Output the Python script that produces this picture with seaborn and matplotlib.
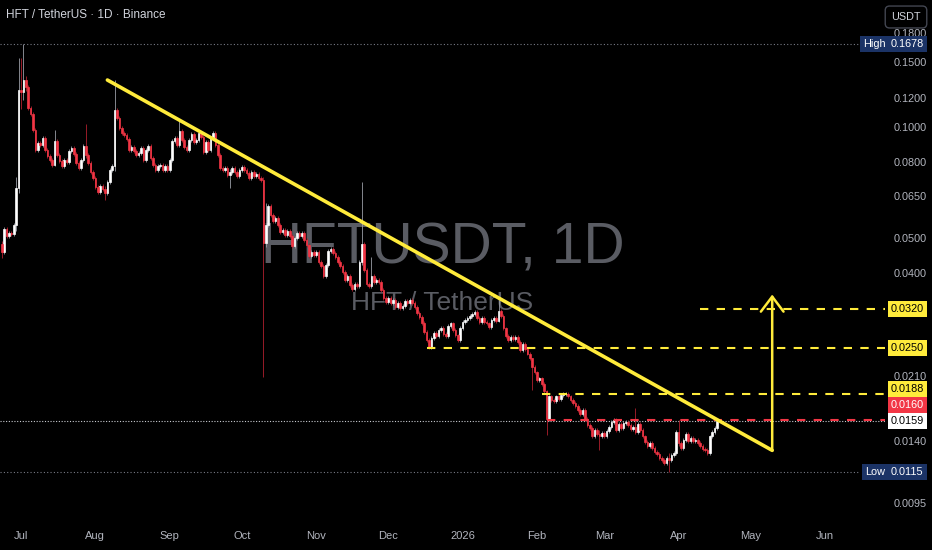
import numpy as np
import pandas as pd
import matplotlib

matplotlib.use("Agg")
import matplotlib.pyplot as plt
import matplotlib.dates as mdates
from matplotlib.ticker import FixedLocator, NullLocator
import seaborn as sns

# daily HFT/USDT candles (open = previous close)
first_day = "2025-06-23"
first_open = 0.0480
closes = [
    0.0457, 0.0527, 0.0505, 0.0514, 0.0511, 0.0541, 0.0682, 0.1260, 0.1244, 0.1340,
    0.1283, 0.1124, 0.1084, 0.0980, 0.0865, 0.0904, 0.0893, 0.0932, 0.0865, 0.0833,
    0.0812, 0.0787, 0.0915, 0.0838, 0.0807, 0.0782, 0.0812, 0.0802, 0.0860, 0.0876,
    0.0844, 0.0797, 0.0772, 0.0812, 0.0887, 0.0838, 0.0797, 0.0754, 0.0726, 0.0686,
    0.0665, 0.0691, 0.0678, 0.0660, 0.0708, 0.0763, 0.0782, 0.1111, 0.1057, 0.0992,
    0.0962, 0.0950, 0.0926, 0.0865, 0.0882, 0.0860, 0.0838, 0.0849, 0.0876, 0.0812,
    0.0865, 0.0887, 0.0823, 0.0787, 0.0763, 0.0782, 0.0787, 0.0763, 0.0782, 0.0763,
    0.0812, 0.0915, 0.0932, 0.0893, 0.0974, 0.0921, 0.0882, 0.0865, 0.0921, 0.0956,
    0.0910, 0.0921, 0.0962, 0.0938, 0.0854, 0.0910, 0.0865, 0.0932, 0.0962, 0.0893,
    0.0838, 0.0772, 0.0763, 0.0772, 0.0740, 0.0754, 0.0772, 0.0754, 0.0735, 0.0763,
    0.0777, 0.0763, 0.0749, 0.0726, 0.0754, 0.0735, 0.0744, 0.0726, 0.0717, 0.0483,
    0.0541, 0.0609, 0.0576, 0.0555, 0.0565, 0.0541, 0.0518, 0.0524, 0.0508, 0.0521,
    0.0505, 0.0474, 0.0498, 0.0514, 0.0505, 0.0514, 0.0492, 0.0477, 0.0446, 0.0457,
    0.0449, 0.0457, 0.0429, 0.0418, 0.0393, 0.0421, 0.0460, 0.0465, 0.0454, 0.0443,
    0.0429, 0.0418, 0.0403, 0.0383, 0.0393, 0.0371, 0.0362, 0.0374, 0.0369, 0.0429,
    0.0480, 0.0408, 0.0374, 0.0369, 0.0393, 0.0378, 0.0383, 0.0378, 0.0360, 0.0342,
    0.0334, 0.0342, 0.0332, 0.0338, 0.0324, 0.0332, 0.0322, 0.0326, 0.0336, 0.0332,
    0.0338, 0.0332, 0.0324, 0.0312, 0.0304, 0.0293, 0.0277, 0.0263, 0.0252, 0.0266,
    0.0275, 0.0270, 0.0280, 0.0284, 0.0273, 0.0270, 0.0288, 0.0292, 0.0280, 0.0271,
    0.0263, 0.0284, 0.0295, 0.0299, 0.0302, 0.0306, 0.0310, 0.0314, 0.0302, 0.0295,
    0.0302, 0.0295, 0.0292, 0.0286, 0.0299, 0.0302, 0.0297, 0.0316, 0.0306, 0.0283,
    0.0270, 0.0263, 0.0268, 0.0265, 0.0268, 0.0260, 0.0247, 0.0257, 0.0249, 0.0242,
    0.0235, 0.0223, 0.0215, 0.0205, 0.0207, 0.0200, 0.0191, 0.0161, 0.0185, 0.0181,
    0.0180, 0.0185, 0.0182, 0.0187, 0.0188, 0.0188, 0.0185, 0.0181, 0.0178, 0.0174,
    0.0170, 0.0166, 0.0170, 0.0161, 0.0155, 0.0152, 0.0144, 0.0150, 0.0146, 0.0144,
    0.0147, 0.0144, 0.0149, 0.0153, 0.0158, 0.0160, 0.0150, 0.0156, 0.0152, 0.0157,
    0.0158, 0.0155, 0.0151, 0.0153, 0.0148, 0.0156, 0.0150, 0.0144, 0.0139, 0.0136,
    0.0138, 0.0134, 0.0131, 0.0129, 0.0126, 0.0124, 0.0122, 0.0126, 0.0124, 0.0128,
    0.0130, 0.0148, 0.0138, 0.0134, 0.0141, 0.0146, 0.0140, 0.0143, 0.0140, 0.0141,
    0.0138, 0.0136, 0.0133, 0.0132, 0.0130, 0.0144, 0.0148, 0.0152, 0.0159,
]
# candles with long wicks: index -> (high, low)
wick_overrides = {
    0: (0.0490, 0.0440), 6: (0.0730, 0.0520), 7: (0.1540, 0.0660),
    8: (0.1540, 0.1120), 9: (0.1678, 0.1180), 10: (0.1370, 0.1250),
    22: (0.0980, 0.0780), 35: (0.1020, 0.0820), 43: (0.0690, 0.0632),
    47: (0.1340, 0.0760), 74: (0.1040, 0.0880), 95: (0.0770, 0.0682),
    109: (0.0730, 0.0209), 110: (0.0620, 0.0470), 150: (0.0708, 0.0420),
    154: (0.0443, 0.0365), 207: (0.0338, 0.0295), 221: (0.0236, 0.0193),
    227: (0.0193, 0.0145), 249: (0.0150, 0.0132), 264: (0.0172, 0.0146),
    278: (0.0130, 0.0115), 282: (0.0160, 0.0136),
}

level_prices = [0.0320, 0.0250, 0.0188]
level_starts = ["2026-04-10", "2025-12-17", "2026-02-03"]
red_level = 0.0160
red_level_start = "2026-02-05"
last_price = 0.0159
high_price = 0.1678
low_price = 0.0115
trend_dates = ["2025-08-06", "2026-05-10"]
trend_prices = [0.1340, 0.0132]
arrow_date = "2026-05-10"
arrow_prices = [0.0132, 0.0350]

month_starts = pd.date_range("2025-07-01", periods=12, freq="MS")
month_labels = ["Jul", "Aug", "Sep", "Oct", "Nov", "Dec", "2026",
                "Feb", "Mar", "Apr", "May", "Jun"]
price_ticks = [0.18, 0.15, 0.12, 0.10, 0.08, 0.065, 0.05, 0.04,
               0.021, 0.014, 0.0095]

BG = "#000000"
UP = "#ffffff"
UP_WICK = "#9a9da6"
DOWN = "#f23645"
DOWN_WICK = "#b0202e"
YELLOW = "#ffeb3b"
NAVY = "#1b3366"
AXIS_TXT = "#b2b5be"
WICK = 0.012
NARROW = ["Liberation Sans Narrow", "DejaVu Sans Condensed", "Liberation Sans", "DejaVu Sans"]

sns.set_theme(style="dark", rc={"axes.facecolor": BG, "figure.facecolor": BG})
plt.rcParams["font.family"] = ["Liberation Sans", "DejaVu Sans"]

fig = plt.figure(figsize=(9.32, 5.5), dpi=100)
ax = fig.add_axes([0, 25 / 550, 885 / 932, 525 / 550])
ax.set_facecolor(BG)
for s in ax.spines.values():
    s.set_visible(False)
ax.grid(False)

dates = pd.date_range(first_day, periods=len(closes), freq="D")
x = mdates.date2num(dates)
c = np.array(closes)
o = np.r_[first_open, c[:-1]]
up = c >= o
top = np.maximum(o, c)
bot = np.minimum(o, c)
highs = top * (1 + WICK)
lows = bot * (1 - WICK)
for i, (h, l) in wick_overrides.items():
    highs[i] = h
    lows[i] = l

ax.set_yscale("log")
x_left = x[0] - 0.75
x_right = x[0] + 368.0
ax.set_xlim(x_left, x_right)
ax.set_ylim(0.008274, 0.2211)

# watermark
ax.text(0.5, 0.499, "HFTUSDT, 1D", transform=ax.transAxes, ha="center",
        va="baseline", fontsize=41, color="#5a5c63", family=NARROW, zorder=0)
ax.text(0.5, 0.4095, "HFT / TetherUS", transform=ax.transAxes, ha="center",
        va="baseline", fontsize=19, color="#5a5c63", family=NARROW, zorder=0)

# candles
ax.vlines(x[up], lows[up], highs[up], color=UP_WICK, lw=0.6, zorder=2)
ax.vlines(x[~up], lows[~up], highs[~up], color=DOWN_WICK, lw=0.6, zorder=2)
ax.bar(x[up], (top - bot)[up], bottom=bot[up], width=0.65, color=UP,
       edgecolor=UP, linewidth=0.5, zorder=3)
ax.bar(x[~up], (top - bot)[~up], bottom=bot[~up], width=0.65, color=DOWN,
       edgecolor=DOWN, linewidth=0.5, zorder=3)

# reference lines
ax.axhline(high_price, xmax=858 / 885, color="#787b86", ls=(0, (1, 2)), lw=0.8, zorder=1)
ax.axhline(low_price, xmax=858 / 885, color="#787b86", ls=(0, (1, 2)), lw=0.8, zorder=1)
ax.axhline(last_price, color="#c8cad0", ls=(0, (1, 1.5)), lw=0.8, zorder=1)
for p, s in zip(level_prices, level_starts):
    ax.hlines(p, mdates.date2num(pd.Timestamp(s)), x_right, colors=YELLOW,
              linestyles=(0, (4, 4)), lw=1.5, zorder=4)
ax.hlines(red_level, mdates.date2num(pd.Timestamp(red_level_start)), x_right,
          colors=DOWN, linestyles=(0, (4, 4)), lw=1.5, zorder=4)

# trendline and target arrow
sns.lineplot(x=mdates.date2num(pd.to_datetime(trend_dates)), y=trend_prices,
             ax=ax, color=YELLOW, linewidth=2.6, zorder=5)
ax_x = mdates.date2num(pd.Timestamp(arrow_date))
ax.annotate("", xy=(ax_x, arrow_prices[1]), xytext=(ax_x, arrow_prices[0]),
            arrowprops=dict(arrowstyle="->,head_length=0.9,head_width=0.68",
                            color=YELLOW, lw=1.8, shrinkA=0, shrinkB=0),
            zorder=5)

# axes ticks
ax.yaxis.tick_right()
ax.yaxis.set_major_locator(FixedLocator(price_ticks))
ax.yaxis.set_minor_locator(NullLocator())
ax.set_yticklabels([f"{v:.4f}" for v in price_ticks])
ax.tick_params(axis="y", length=0, pad=6, labelsize=7.8, labelcolor=AXIS_TXT)
ax.set_xticks(mdates.date2num(month_starts))
ax.set_xticklabels(month_labels)
ax.tick_params(axis="x", length=0, pad=4.5, labelsize=8, labelcolor=AXIS_TXT)


def box_label(price, text, fc, tc, dx=6, dy=0):
    ax.annotate(text, xy=(1, price), xycoords=ax.get_yaxis_transform(),
                xytext=(dx, dy), textcoords="offset pixels", ha="left",
                va="center", fontsize=7.8, color=tc, annotation_clip=False,
                bbox=dict(boxstyle="square,pad=0.28", fc=fc, ec="none"),
                zorder=10)


box_label(high_price, "0.1678", NAVY, "white")
box_label(high_price, "High", NAVY, "white", dx=-22)
box_label(low_price, "0.0115", NAVY, "white")
box_label(low_price, "Low", NAVY, "white", dx=-20)
box_label(0.0320, "0.0320", YELLOW, "black")
box_label(0.0250, "0.0250", YELLOW, "black")
box_label(0.0188, "0.0188", YELLOW, "black", dy=5)
box_label(red_level, "0.0160", DOWN, "white", dy=15)
box_label(last_price, "0.0159", "white", "black")

fig.text(6 / 932, 1 - 15 / 550, "HFT / TetherUS · 1D · Binance", ha="left",
         va="center", fontsize=8.5, color="#d1d4dc", family=NARROW)
fig.text(906 / 932, 1 - 17 / 550, "USDT", ha="center", va="center",
         fontsize=7.8, color="#d1d4dc",
         bbox=dict(boxstyle="round,pad=0.55,rounding_size=0.4", fc=BG,
                   ec="#434651", lw=1))

fig.savefig("out.png", dpi=100, facecolor=BG)
